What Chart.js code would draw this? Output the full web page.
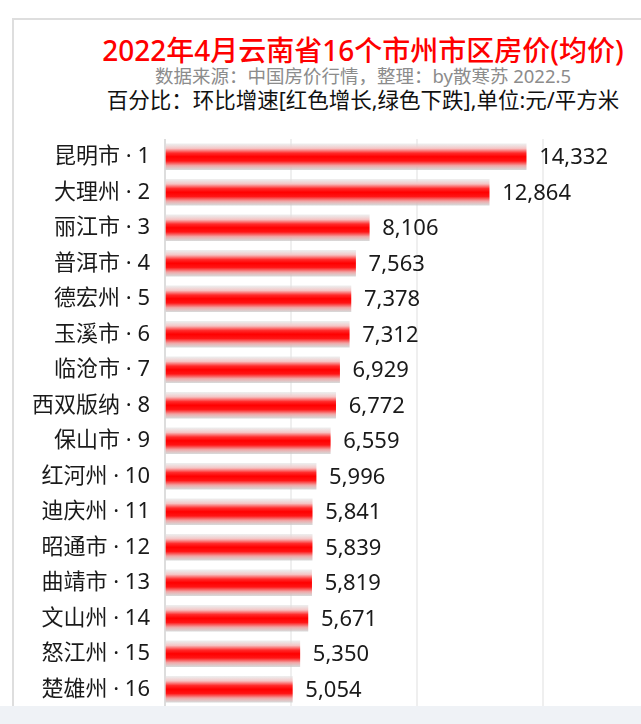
<!DOCTYPE html>
<html>
<head>
<meta charset="utf-8">
<script src="https://cdn.jsdelivr.net/npm/chart.js@4"></script>
<style>
  html, body { margin: 0; padding: 0; width: 641px; height: 724px; overflow: hidden; background: #fff; }
  .panel { position: absolute; left: 12px; top: 18px; width: 700px; height: 800px; border: 2px solid #dedede; background: #fff; }
  .t { position: absolute; left: 0; width: 726px; text-align: center; white-space: nowrap; font-family: "Noto Sans", "Noto Sans CJK SC", sans-serif; }
  #title { top: 33px; font-size: 28px; color: #ff0000; line-height: 34px; font-weight: 500; }
  #sub { top: 65px; font-size: 18.5px; color: #8c8c8c; line-height: 22px; }
  #note { top: 87px; font-size: 21.5px; color: #111; line-height: 26px; }
  #wrap { position: absolute; left: 0; top: 0; width: 680px; height: 724px; }
  .band { position: absolute; left: 0; top: 706px; width: 641px; height: 18px; background: #eff2f6; }
</style>
</head>
<body>
<div class="panel"></div>
<div class="t" id="title">2022年4月云南省16个市州市区房价(均价)</div>
<div class="t" id="sub">数据来源：中国房价行情，整理：by散寒苏 2022.5</div>
<div class="t" id="note">百分比：环比增速[红色增长,绿色下跌],单位:元/平方米</div>
<div id="wrap"><canvas id="chart"></canvas></div>
<div class="band"></div>
<script>
const cities = ['昆明市', '大理州', '丽江市', '普洱市', '德宏州', '玉溪市', '临沧市', '西双版纳',
                '保山市', '红河州', '迪庆州', '昭通市', '曲靖市', '文山州', '怒江州', '楚雄州'];
const prices = [14332, 12864, 8106, 7563, 7378, 7312, 6929, 6772,
                6559, 5996, 5841, 5839, 5819, 5671, 5350, 5054];
const labels = cities.map((c, i) => c + ' · ' + (i + 1));

const FONT = '"Noto Sans", "Noto Sans CJK SC", sans-serif';

function barGradient(ctx) {
  const chart = ctx.chart;
  const y = chart.scales.y;
  if (!chart.chartArea || !y) return '#ff0000';
  const cy = y.getPixelForValue(ctx.dataIndex);
  const h = 13;
  const g = chart.ctx.createLinearGradient(0, cy - h, 0, cy + h);
  g.addColorStop(0, 'rgba(225,225,225,0.6)');
  g.addColorStop(0.18, '#f6c4c4');
  g.addColorStop(0.36, '#ff2a2a');
  g.addColorStop(0.5, '#ff0000');
  g.addColorStop(0.66, '#ff1414');
  g.addColorStop(0.84, '#f2a4a4');
  g.addColorStop(1, 'rgba(200,200,200,0.7)');
  return g;
}

const valueLabels = {
  id: 'valueLabels',
  afterDatasetsDraw(chart) {
    const ctx = chart.ctx;
    const meta = chart.getDatasetMeta(0);
    ctx.save();
    ctx.font = '22px ' + FONT;
    ctx.fillStyle = '#1a1a1a';
    ctx.textAlign = 'left';
    ctx.textBaseline = 'middle';
    meta.data.forEach((bar, i) => {
      ctx.fillText(prices[i].toLocaleString('en-US'), bar.x + 13, bar.y + 1);
    });
    ctx.restore();
  }
};

new Chart(document.getElementById('chart'), {
  type: 'bar',
  data: {
    labels: labels,
    datasets: [{
      data: prices,
      backgroundColor: barGradient,
      borderWidth: 0,
      barThickness: 26
    }]
  },
  options: {
    indexAxis: 'y',
    responsive: true,
    maintainAspectRatio: false,
    animation: false,
    layout: { padding: { top: 139, bottom: 17, right: 11, left: 0 } },
    plugins: { legend: { display: false }, tooltip: { enabled: false } },
    scales: {
      x: {
        min: 0,
        max: 20000,
        afterFit: s => { s.height = 0; s.paddingLeft = 0; s.paddingRight = 0; },
        ticks: { display: false, stepSize: 5000 },
        border: { display: false },
        grid: {
          drawTicks: false,
          lineWidth: 2,
          color: c => c.tick && c.tick.value === 0 ? '#dddddd' : '#efefef'
        }
      },
      y: {
        afterFit: s => { s.width = 165; s.paddingTop = 0; s.paddingBottom = 0; },
        border: { display: false },
        grid: { display: false, drawTicks: false },
        ticks: { color: '#1a1a1a', padding: 15, font: { size: 22, family: FONT } }
      }
    }
  },
  plugins: [valueLabels]
});
</script>
</body>
</html>
